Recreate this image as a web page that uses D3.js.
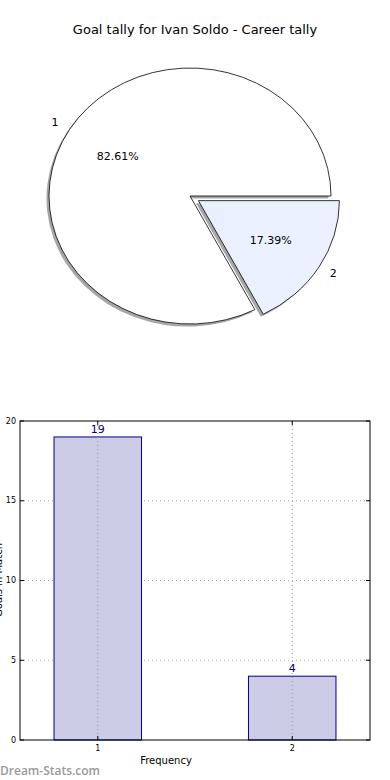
<!DOCTYPE html>
<html>
<head>
<meta charset="utf-8">
<script src="https://cdn.jsdelivr.net/npm/d3@7.9.0/dist/d3.min.js"></script>
<style>
  body { margin: 0; background: #fff; }
  svg { display: block; font-family: "DejaVu Sans", sans-serif; }
</style>
</head>
<body>
<svg id="chart" width="390" height="780"></svg>
<script>
// data
const categories = ['1', '2'];
const tally = [19, 4];
const yTicks = [0, 5, 10, 15, 20];
const pieColors = ['#ffffff', '#eaf0fd'];

const svg = d3.select('#chart');

// title
svg.append('text')
  .attr('x', 195).attr('y', 34)
  .attr('text-anchor', 'middle')
  .style('font-size', '13px')
  .text('Goal tally for Ivan Soldo - Career tally');

// ---- pie (elliptical, like the original) ----
const cx = 190, cy = 196, rx = 141, ry = 128;
const explode = [0, 0.07];
const total = d3.sum(tally);

const pieGen = d3.pie().sort(null)
  .startAngle(Math.PI / 2)
  .endAngle(Math.PI / 2 - 2 * Math.PI);
const arcs = pieGen(tally);
const arcGen = d3.arc().innerRadius(0).outerRadius(1);

const pieG = svg.append('g');

arcs.forEach((d, i) => {
  const mid = (d.startAngle + d.endAngle) / 2;
  const ox = cx + Math.sin(mid) * explode[i] * rx;
  const oy = cy - Math.cos(mid) * explode[i] * ry;

  // shadow
  pieG.append('path')
    .attr('d', arcGen(d))
    .attr('transform', `translate(${ox - 2.5},${oy + 2.5}) scale(${rx},${ry})`)
    .attr('fill', '#4d4d4d')
    .attr('fill-opacity', 0.5);

  pieG.append('path')
    .attr('d', arcGen(d))
    .attr('transform', `translate(${ox},${oy}) scale(${rx},${ry})`)
    .attr('fill', pieColors[i])
    .attr('stroke', '#000')
    .attr('stroke-width', 0.8)
    .attr('vector-effect', 'non-scaling-stroke');

  // labels
  pieG.append('text')
    .attr('x', ox + Math.sin(mid) * 1.12 * rx)
    .attr('y', oy - Math.cos(mid) * 1.1 * ry)
    .attr('text-anchor', 'middle')
    .attr('dominant-baseline', 'central')
    .style('font-size', '11px')
    .text(categories[i]);

  pieG.append('text')
    .attr('x', ox + Math.sin(mid) * 0.6 * rx)
    .attr('y', oy - Math.cos(mid) * 0.6 * ry)
    .attr('text-anchor', 'middle')
    .attr('dominant-baseline', 'central')
    .style('font-size', '11px')
    .text((d.value / total * 100).toFixed(2) + '%');
});

// ---- bar chart ----
const bLeft = 20, bRight = 370, bTop = 421, bBottom = 740;
const x = d3.scaleLinear().domain([0.6, 2.4]).range([bLeft, bRight]);
const y = d3.scaleLinear().domain([0, 20]).range([bBottom, bTop]);
const barW = 0.45;

const g = svg.append('g');

// grid
g.selectAll('.hgrid').data(yTicks.slice(1, -1)).join('line')
  .attr('x1', bLeft).attr('x2', bRight)
  .attr('y1', d => y(d)).attr('y2', d => y(d))
  .attr('stroke', '#aaa').attr('stroke-width', 1)
  .attr('stroke-dasharray', '1,3');

// bars
g.selectAll('rect.bar').data(tally).join('rect')
  .attr('class', 'bar')
  .attr('x', (d, i) => x(+categories[i] - barW / 2))
  .attr('width', x(barW) - x(0))
  .attr('y', d => y(d))
  .attr('height', d => y(0) - y(d))
  .attr('fill', '#cccce6')
  .attr('stroke', '#000080')
  .attr('stroke-width', 1);

// vertical grid drawn over the bars
g.selectAll('.vgrid').data(categories).join('line')
  .attr('x1', d => x(+d)).attr('x2', d => x(+d))
  .attr('y1', bTop).attr('y2', bBottom)
  .attr('stroke', '#999').attr('stroke-width', 1)
  .attr('stroke-dasharray', '1,3');

// value labels
g.selectAll('text.val').data(tally).join('text')
  .attr('class', 'val')
  .attr('x', (d, i) => x(+categories[i]))
  .attr('y', d => y(d) - 4)
  .attr('text-anchor', 'middle')
  .attr('fill', '#000080')
  .style('font-size', '11px')
  .text(d => d);

// frame
g.append('rect')
  .attr('x', bLeft).attr('y', bTop)
  .attr('width', bRight - bLeft).attr('height', bBottom - bTop)
  .attr('fill', 'none').attr('stroke', '#000').attr('stroke-width', 1);

// ticks (inside, all four sides)
yTicks.forEach(t => {
  g.append('line').attr('x1', bLeft).attr('x2', bLeft + 4)
    .attr('y1', y(t)).attr('y2', y(t)).attr('stroke', '#000');
  g.append('line').attr('x1', bRight - 4).attr('x2', bRight)
    .attr('y1', y(t)).attr('y2', y(t)).attr('stroke', '#000');
});
categories.forEach(c => {
  g.append('line').attr('x1', x(+c)).attr('x2', x(+c))
    .attr('y1', bBottom).attr('y2', bBottom - 4).attr('stroke', '#000');
  g.append('line').attr('x1', x(+c)).attr('x2', x(+c))
    .attr('y1', bTop).attr('y2', bTop + 4).attr('stroke', '#000');
});

// tick labels
g.selectAll('text.yt').data(yTicks).join('text')
  .attr('class', 'yt')
  .attr('x', bLeft - 4)
  .attr('y', d => y(d))
  .attr('text-anchor', 'end')
  .attr('dominant-baseline', 'central')
  .style('font-size', '8px')
  .text(d => d);

g.selectAll('text.xt').data(categories).join('text')
  .attr('class', 'xt')
  .attr('x', d => x(+d))
  .attr('y', bBottom + 11)
  .attr('text-anchor', 'middle')
  .style('font-size', '8px')
  .text(d => d);

// axis labels
svg.append('text')
  .attr('x', 166).attr('y', 764)
  .attr('text-anchor', 'middle')
  .style('font-size', '10px')
  .text('Frequency');

svg.append('text')
  .attr('transform', 'translate(1.5,580) rotate(-90)')
  .attr('text-anchor', 'middle')
  .style('font-size', '10px')
  .text('Goals in Match');

// watermark
svg.append('text')
  .attr('x', 0).attr('y', 775)
  .attr('fill', '#999')
  .style('font-size', '12px')
  .style('font-weight', '600')
  .style('font-family', '"Open Sans", sans-serif')
  .text('Dream-Stats.com');
</script>
</body>
</html>
